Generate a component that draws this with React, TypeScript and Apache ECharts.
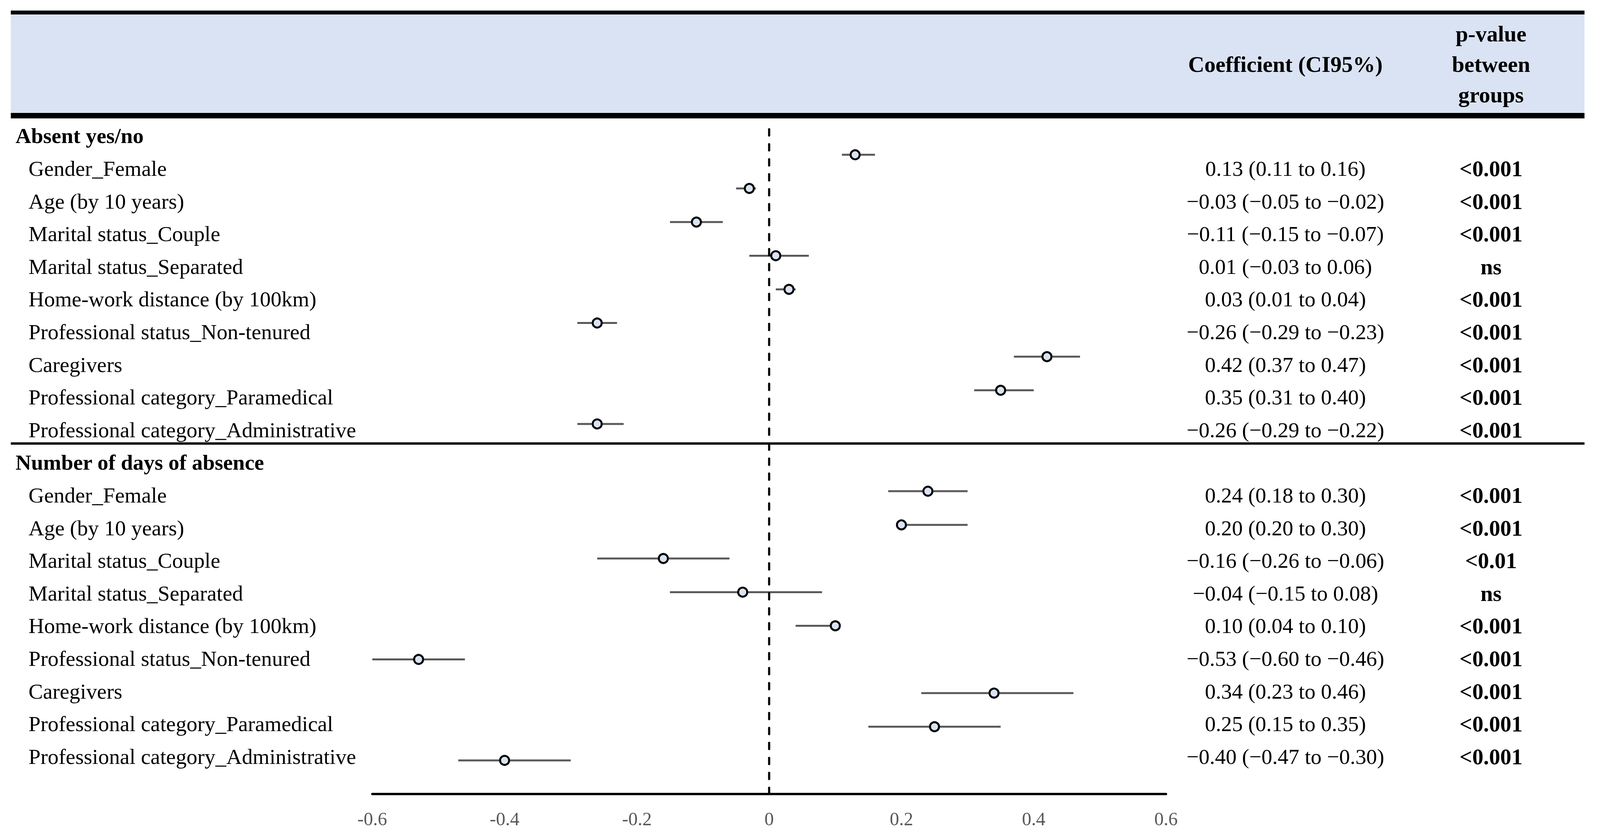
import React, { useEffect, useRef } from "react";
import * as echarts from "echarts";

// ---------- data ----------
const groupTitles = ["Absent yes/no", "Number of days of absence"];
const variables = [
  "Gender_Female",
  "Age (by 10 years)",
  "Marital status_Couple",
  "Marital status_Separated",
  "Home-work distance (by 100km)",
  "Professional status_Non-tenured",
  "Caregivers",
  "Professional category_Paramedical",
  "Professional category_Administrative",
];

const absentCoef = [0.13, -0.03, -0.11, 0.01, 0.03, -0.26, 0.42, 0.35, -0.26];
const absentLow = [0.11, -0.05, -0.15, -0.03, 0.01, -0.29, 0.37, 0.31, -0.29];
const absentHigh = [0.16, -0.02, -0.07, 0.06, 0.04, -0.23, 0.47, 0.4, -0.22];
const absentP = ["<0.001", "<0.001", "<0.001", "ns", "<0.001", "<0.001", "<0.001", "<0.001", "<0.001"];

const daysCoef = [0.24, 0.2, -0.16, -0.04, 0.1, -0.53, 0.34, 0.25, -0.4];
const daysLow = [0.18, 0.2, -0.26, -0.15, 0.04, -0.6, 0.23, 0.15, -0.47];
const daysHigh = [0.3, 0.3, -0.06, 0.08, 0.1, -0.46, 0.46, 0.35, -0.3];
const daysP = ["<0.001", "<0.001", "<0.01", "ns", "<0.001", "<0.001", "<0.001", "<0.001", "<0.001"];

const xTicksMin = -0.6;
const xTicksMax = 0.6;
const xTickStep = 0.2;

const headerCoef = "Coefficient (CI95%)";
const headerP = ["p-value", "between", "groups"];

// ---------- helpers ----------
const FONT = "Liberation Serif";
const fmt = (v: number) => {
  const s = Math.abs(v).toFixed(2);
  return v < 0 ? "\u2212" + s : s;
};

type Row = { kind: "h" | "i"; label: string; coef: string; p: string };
const rows: Row[] = [];
const blocks = [
  { title: groupTitles[0], c: absentCoef, lo: absentLow, hi: absentHigh, p: absentP },
  { title: groupTitles[1], c: daysCoef, lo: daysLow, hi: daysHigh, p: daysP },
];
blocks.forEach((b) => {
  rows.push({ kind: "h", label: b.title, coef: "", p: "" });
  variables.forEach((v, i) => {
    rows.push({
      kind: "i",
      label: v,
      coef: `${fmt(b.c[i])} (${fmt(b.lo[i])} to ${fmt(b.hi[i])})`,
      p: b.p[i],
    });
  });
});

// plot positions: y axis 0..20, block 1 at 19..11, block 2 at 9..1
const pointData: number[][] = [];
const whiskerData: number[][] = [];
blocks.forEach((b, bi) => {
  b.c.forEach((c, i) => {
    const y = 19 - bi * 10 - i;
    pointData.push([c, y]);
    whiskerData.push([b.lo[i], b.hi[i], y]);
  });
});

// design size the layout below is expressed in
const DW = 4435;
const DH = 2142;

export default function App() {
  const ref = useRef<HTMLDivElement>(null);
  useEffect(() => {
    if (!ref.current) return;
    const el = ref.current;
    const W = el.clientWidth || DW;
    const H = el.clientHeight || DH;
    const sx = W / DW;
    const sy = H / DH;
    const fs = Math.min(sx, sy);
    const X = (v: number) => v * sx;
    const Y = (v: number) => v * sy;
    const F = (v: number) => v * fs;

    const chart = echarts.init(el, undefined, { renderer: "svg" });
    const rowKeys = rows.map((_, i) => String(i));
    const left = X(1032);
    const right = W - X(3232);
    const axisRight = X(3232);

    const option: any = {
      animation: false,
      backgroundColor: "#ffffff",
      textStyle: { fontFamily: FONT },
      grid: [
        { left, right, top: Y(310), bottom: H - Y(2032) },
        { left, right, top: Y(306), height: Y(1672) },
      ],
      xAxis: [
        {
          gridIndex: 0,
          type: "value",
          min: xTicksMin,
          max: xTicksMax,
          interval: xTickStep,
          axisLine: { show: true, lineStyle: { color: "#000", width: Y(6) } },
          axisTick: { show: false },
          splitLine: { show: false },
          axisLabel: {
            color: "#595959",
            fontFamily: FONT,
            fontSize: F(52),
            margin: Y(39),
          },
        },
        { gridIndex: 1, type: "value", show: false, min: 0, max: 1 },
      ],
      yAxis: [
        { gridIndex: 0, type: "value", min: 0, max: 20, show: false },
        {
          gridIndex: 1,
          type: "category",
          inverse: true,
          position: "left",
          data: rowKeys,
          axisLine: { show: false },
          axisTick: { show: false },
          splitLine: { show: false },
          axisLabel: {
            interval: 0,
            align: "left",
            margin: left - X(43),
            color: "#000",
            formatter: (_v: string, idx: number) => {
              const r = rows[idx];
              return r.kind === "h" ? `{h|${r.label}}` : `{i|${r.label}}`;
            },
            rich: {
              h: { fontFamily: FONT, fontSize: F(60), fontWeight: "bold", color: "#000" },
              i: { fontFamily: FONT, fontSize: F(60), color: "#000", padding: [0, 0, 0, X(36)] },
            },
          },
        },
        {
          gridIndex: 1,
          type: "category",
          inverse: true,
          position: "right",
          data: rowKeys,
          axisLine: { show: false },
          axisTick: { show: false },
          splitLine: { show: false },
          axisLabel: {
            interval: 0,
            align: "center",
            margin: X(3563) - axisRight,
            color: "#000",
            fontFamily: FONT,
            fontSize: F(60),
            formatter: (_v: string, idx: number) => rows[idx].coef,
          },
        },
        {
          gridIndex: 1,
          type: "category",
          inverse: true,
          position: "right",
          data: rowKeys,
          axisLine: { show: false },
          axisTick: { show: false },
          splitLine: { show: false },
          axisLabel: {
            interval: 0,
            align: "center",
            margin: X(4133) - axisRight,
            color: "#000",
            fontFamily: FONT,
            fontSize: F(62),
            fontWeight: "bold",
            formatter: (_v: string, idx: number) => rows[idx].p,
          },
        },
      ],
      series: [
        {
          type: "custom",
          xAxisIndex: 0,
          yAxisIndex: 0,
          encode: { x: [0, 1], y: 2 },
          data: whiskerData,
          z: 2,
          renderItem: (_params: any, api: any) => {
            const y = api.value(2);
            const p1 = api.coord([api.value(0), y]);
            const p2 = api.coord([api.value(1), y]);
            return {
              type: "line",
              shape: { x1: p1[0], y1: p1[1], x2: p2[0], y2: p2[1] },
              style: { stroke: "#595959", lineWidth: Y(5) },
            };
          },
        },
        {
          type: "scatter",
          xAxisIndex: 0,
          yAxisIndex: 0,
          data: pointData,
          symbol: "circle",
          symbolSize: F(25),
          z: 4,
          itemStyle: { color: "#dae3f3", borderColor: "#000", borderWidth: F(5.5), opacity: 1 },
          markLine: {
            silent: true,
            symbol: ["none", "none"],
            label: { show: false },
            lineStyle: { color: "#000", width: X(6), type: [Y(16), Y(22.3)], cap: "round" },
            data: [{ xAxis: 0 }],
          },
        },
      ],
      graphic: [
        { type: "rect", shape: { x: X(30), y: Y(37), width: X(4362), height: Y(252) }, style: { fill: "#dae3f3" }, z: -1 },
        { type: "rect", shape: { x: X(30), y: Y(27), width: X(4362), height: Y(10) }, style: { fill: "#000" } },
        { type: "rect", shape: { x: X(30), y: Y(289), width: X(4362), height: Y(14) }, style: { fill: "#000" } },
        { type: "rect", shape: { x: X(30), y: Y(1132), width: X(4362), height: Y(6) }, style: { fill: "#000" } },
        {
          type: "text",
          x: X(3563),
          y: Y(164),
          style: {
            text: headerCoef,
            fill: "#000",
            fontFamily: FONT,
            fontSize: F(62),
            fontWeight: "bold",
            align: "center",
            verticalAlign: "middle",
            textAlign: "center",
            textVerticalAlign: "middle",
          },
        },
        ...headerP.map((t, i) => ({
          type: "text",
          x: X(4133),
          y: Y(86 + i * 78),
          style: {
            text: t,
            fill: "#000",
            fontFamily: FONT,
            fontSize: F(62),
            fontWeight: "bold",
            align: "center",
            verticalAlign: "middle",
            textAlign: "center",
            textVerticalAlign: "middle",
          },
        })),
      ],
    };
    chart.setOption(option);
    return () => chart.dispose();
  }, []);
  return (
    <div
      ref={ref}
      style={{ position: "fixed", left: 0, top: 0, width: "100vw", height: "100vh", background: "#fff" }}
    />
  );
}
